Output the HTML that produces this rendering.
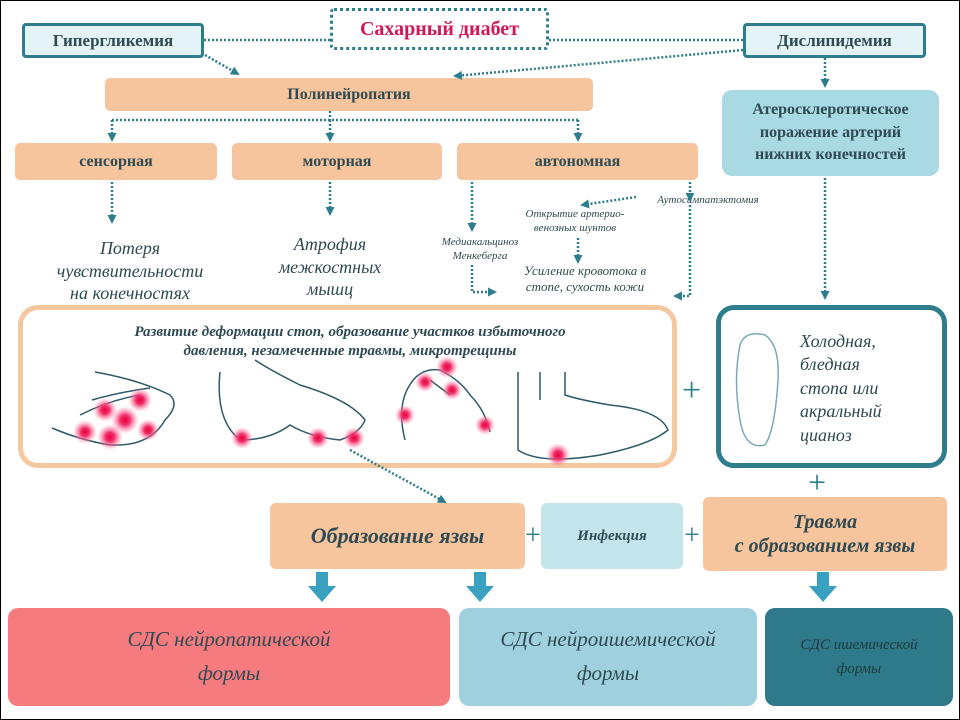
<!DOCTYPE html>
<html><head><meta charset="utf-8"><style>
body{margin:0;width:960px;height:720px;position:relative;overflow:hidden;background:#fff;font-family:"Liberation Serif","DejaVu Serif",serif;}
.b{position:absolute;box-sizing:border-box;display:flex;align-items:center;justify-content:center;text-align:center;color:#2f4a52;}
.o{background:#f7c59d;border-radius:5px;font-weight:bold;font-size:16px;}
.t{position:absolute;text-align:center;font-style:italic;color:#2f4a52;line-height:1.25;}
svg{position:absolute;left:0;top:0;}
</style></head><body>
<div style="position:absolute;left:0;top:0;width:958px;height:718px;border:1px solid #000;"></div>
<div class="b" style="left:22px;top:23px;width:182px;height:35px;background:#e4f3f6;border:3px solid #2e7d8c;border-radius:4px;font-weight:bold;font-size:17px;">Гипергликемия</div>
<div class="b" style="left:743px;top:23px;width:183px;height:35px;background:#e4f3f6;border:3px solid #2e7d8c;border-radius:4px;font-weight:bold;font-size:17px;">Дислипидемия</div>
<div class="b" style="left:330px;top:8px;width:219px;height:42px;border:3px dotted #2e7d8c;border-radius:4px;color:#d0175a;font-weight:bold;font-size:20px;">Сахарный диабет</div>
<div class="b o" style="left:105px;top:78px;width:488px;height:33px;">Полинейропатия</div>
<div class="b o" style="left:15px;top:143px;width:202px;height:37px;">сенсорная</div>
<div class="b o" style="left:232px;top:143px;width:210px;height:37px;">моторная</div>
<div class="b o" style="left:457px;top:143px;width:241px;height:37px;">автономная</div>
<div class="b" style="left:722px;top:90px;width:217px;height:86px;background:#a9d9e3;border-radius:10px;font-weight:bold;font-size:16px;line-height:1.4;">Атеросклеротическое<br>поражение артерий<br>нижних конечностей</div>
<div class="t" style="left:35px;top:237px;width:190px;font-size:18px;">Потеря<br>чувствительности<br>на конечностях</div>
<div class="t" style="left:255px;top:233px;width:150px;font-size:18px;">Атрофия<br>межкостных<br>мышц</div>
<div class="t" style="left:425px;top:236px;width:110px;font-size:11px;">Медиакальциноз<br>Менкеберга</div>
<div class="t" style="left:505px;top:208px;width:140px;font-size:11px;">Открытие артерио-<br>венозных шунтов</div>
<div class="t" style="left:638px;top:194px;width:140px;font-size:11px;">Аутосимпатэктомия</div>
<div class="t" style="left:500px;top:263px;width:170px;font-size:13px;">Усиление кровотока в<br>стопе, сухость кожи</div>
<div style="position:absolute;left:18px;top:305px;width:659px;height:163px;box-sizing:border-box;border:5px solid #f5c79e;border-radius:20px;"></div>
<div class="t" style="left:60px;top:323px;width:580px;font-size:15px;font-weight:bold;">Развитие деформации стоп, образование участков избыточного<br>давления, незамеченные травмы, микротрещины</div>
<div style="position:absolute;left:716px;top:305px;width:231px;height:163px;box-sizing:border-box;border:5px solid #2e7d8c;border-radius:18px;"></div>
<div class="t" style="left:800px;top:330px;width:120px;text-align:left;font-size:18px;line-height:1.3;">Холодная,<br>бледная<br>стопа или<br>акральный<br>цианоз</div>
<div class="b" style="left:270px;top:503px;width:255px;height:66px;background:#f7c59d;border-radius:6px;font-style:italic;font-weight:bold;font-size:22px;">Образование язвы</div>
<div class="b" style="left:541px;top:503px;width:142px;height:66px;background:#c2e4eb;border-radius:6px;font-style:italic;font-weight:bold;font-size:15px;">Инфекция</div>
<div class="b" style="left:703px;top:497px;width:244px;height:74px;background:#f7c59d;border-radius:6px;font-style:italic;font-weight:bold;font-size:20px;line-height:1.2;">Травма<br>с образованием язвы</div>
<div class="b" style="left:8px;top:608px;width:442px;height:98px;background:#f57b7f;border-radius:10px;font-style:italic;font-size:21px;line-height:1.6;">СДС нейропатической<br>формы</div>
<div class="b" style="left:459px;top:608px;width:298px;height:98px;background:#9fd0dd;border-radius:10px;font-style:italic;font-size:21px;line-height:1.6;">СДС нейроишемической<br>формы</div>
<div class="b" style="left:765px;top:608px;width:188px;height:98px;background:#2e7a8a;border-radius:10px;font-style:italic;font-size:15px;line-height:1.6;color:#1e3a40;">СДС ишемической<br>формы</div>
<div class="t" style="left:682px;top:370px;font-size:34px;color:#2e7d8c;font-style:normal;">+</div>
<div class="t" style="left:808px;top:462px;font-size:32px;color:#2e7d8c;font-style:normal;">+</div>
<div class="t" style="left:525px;top:518px;font-size:28px;color:#2e7d8c;font-style:normal;">+</div>
<div class="t" style="left:684px;top:518px;font-size:28px;color:#2e7d8c;font-style:normal;">+</div>
<svg width="960" height="720" viewBox="0 0 960 720">
<defs><marker id="a" markerUnits="userSpaceOnUse" markerWidth="9" markerHeight="9" refX="7" refY="4.5" orient="auto"><path d="M0,0L9,4.5L0,9z" fill="#2e7d8c"/></marker>
<radialGradient id="g"><stop offset="0" stop-color="#e8003c"/><stop offset=".35" stop-color="#f0306a"/><stop offset="1" stop-color="#ff8fb0" stop-opacity="0"/></radialGradient></defs>
<g stroke="#2e7d8c" stroke-width="2.5" stroke-dasharray="2,2" fill="none">
<path d="M204,40H330M549,40H743"/>
<path d="M205,55L238,74" marker-end="url(#a)"/>
<path d="M743,50L455,76" marker-end="url(#a)"/>
<path d="M825,58V86" marker-end="url(#a)"/>
<path d="M330,111V120M112,120H578"/>
<path d="M112,120V140" marker-end="url(#a)"/><path d="M330,120V140" marker-end="url(#a)"/><path d="M578,120V140" marker-end="url(#a)"/>
<path d="M112,182V222" marker-end="url(#a)"/>
<path d="M330,182V214" marker-end="url(#a)"/>
<path d="M472,182V230" marker-end="url(#a)"/>
<path d="M472,265V292H495" marker-end="url(#a)"/>
<path d="M690,182V200" marker-end="url(#a)"/>
<path d="M690,205V296H675" marker-end="url(#a)"/>
<path d="M636,197L582,205" marker-end="url(#a)"/>
<path d="M578,238V262" marker-end="url(#a)"/>
<path d="M825,178V298" marker-end="url(#a)"/>
<path d="M350,450L445,502" marker-end="url(#a)"/>
</g>
<g fill="#3aa0c0"><path d="M316,572h12v14h8l-14,16l-14,-16h8z"/><path d="M474,572h12v14h8l-14,16l-14,-16h8z"/><path d="M817,572h12v14h8l-14,16l-14,-16h8z"/></g>
<g stroke="#2f5a6a" stroke-width="1.5" fill="none">
<path d="M52,428Q80,440 110,445Q150,447 165,420Q180,405 170,395Q140,380 95,372"/>
<path d="M80,415Q110,400 140,395M92,400Q120,392 150,388"/>
<path d="M220,372Q215,420 240,440Q270,440 290,425Q310,437 340,440Q360,433 365,420Q350,400 300,385Q270,370 255,360"/>
<path d="M405,440Q395,400 415,378Q425,368 440,370Q460,380 470,395Q485,410 490,432M430,380L450,395"/>
<path d="M518,372V450Q540,465 600,455Q650,445 668,430Q660,410 610,405Q580,400 565,395V372M540,372V400"/>
<path d="M740,345Q745,330 765,335Q780,345 778,380Q775,430 765,445Q745,450 740,420Q733,380 740,345" stroke="#7aa9b8"/>
</g>
<g fill="url(#g)">
<circle cx="85" cy="432" r="12"/><circle cx="110" cy="437" r="13"/><circle cx="125" cy="420" r="14"/><circle cx="105" cy="410" r="12"/><circle cx="140" cy="400" r="12"/><circle cx="148" cy="430" r="11"/>
<circle cx="242" cy="438" r="11"/><circle cx="318" cy="438" r="11"/><circle cx="354" cy="438" r="11"/>
<circle cx="447" cy="367" r="11"/><circle cx="425" cy="382" r="10"/><circle cx="452" cy="390" r="10"/><circle cx="405" cy="415" r="10"/><circle cx="485" cy="425" r="10"/>
<circle cx="558" cy="455" r="12"/>
</g>
</svg>
</body></html>
